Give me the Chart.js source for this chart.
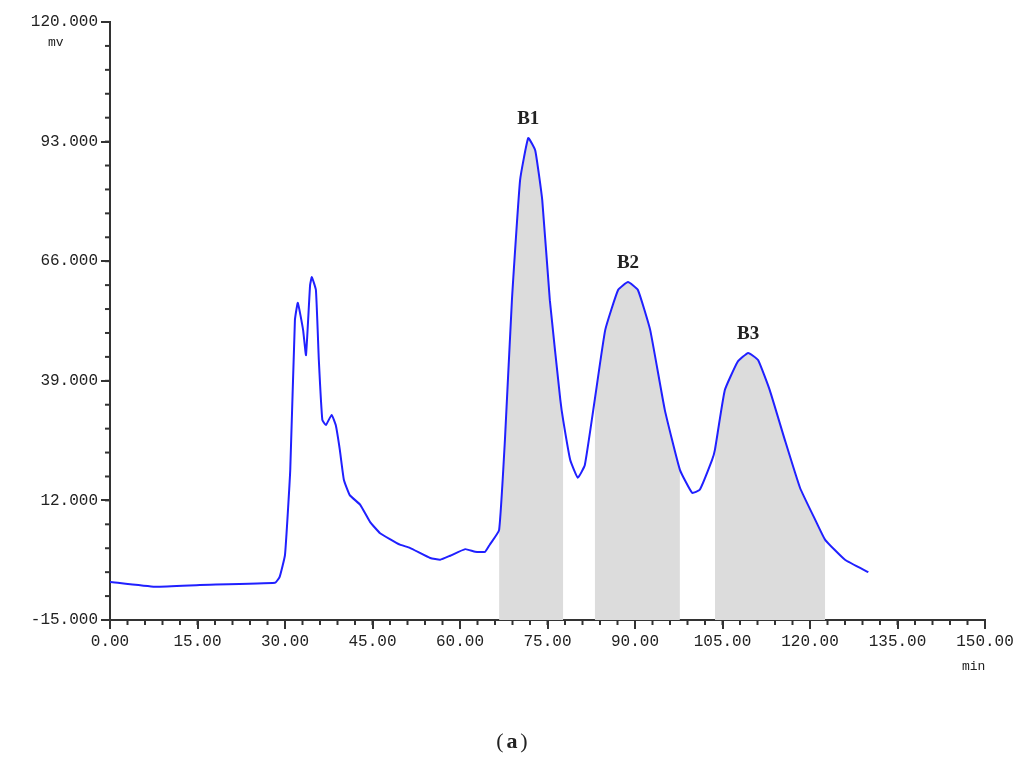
<!DOCTYPE html>
<html>
<head>
<meta charset="utf-8">
<script src="https://cdn.jsdelivr.net/npm/chart.js@4/dist/chart.umd.min.js"></script>
<style>
  html, body { margin: 0; padding: 0; background: #fff; }
  #wrap { width: 1024px; height: 765px; }
</style>
</head>
<body>
<div id="wrap"><canvas id="chrom"></canvas></div>
<script>
// retention time (min) and signal (mV)
const times = [0, 7.7, 15.4, 28.3, 29.1, 30, 30.9, 31.7, 32.2, 33.1, 33.6, 34.3, 34.6, 35.3, 35.8, 36.4, 37, 38, 38.7, 39.4, 40.1, 41.1, 42.9, 44.6, 46.3, 49.7, 51.4, 54.9, 56.6, 58.3, 60.9, 62.6, 64.3, 65.1, 66.7, 67.7, 68.9, 70.3, 71.7, 72.9, 74.1, 75.4, 77.2, 77.7, 78.9, 80.2, 81.4, 83.1, 84.9, 87.1, 88.8, 90.5, 92.6, 95.1, 97.7, 99.8, 101.1, 103.2, 103.7, 105.4, 107.6, 109.4, 111.1, 113.1, 115.7, 118.3, 120.9, 122.6, 126, 130];
const signal = [-6.4, -7.5, -7.1, -6.6, -5.2, -0.3, 18.9, 52.7, 56.6, 50.5, 44.8, 60.6, 62.4, 59.5, 43.7, 30.2, 29, 31.3, 29, 23.4, 16.6, 13.2, 11, 7.1, 4.6, 2, 1.3, -1, -1.4, -0.5, 1, 0.4, 0.4, 2, 5.3, 25.6, 57.2, 84.3, 93.8, 91, 79.8, 57.2, 34.7, 30, 21.1, 17.1, 20, 34.7, 50.5, 59.5, 61.3, 59.5, 50.5, 32.5, 18.9, 13.7, 14.4, 21.1, 23.4, 36.9, 43.3, 45.3, 43.7, 36.9, 25.6, 14.8, 7.6, 3.1, -1.4, -4.2];

// collected fractions: start/end time and label
const peakNames = ['B1', 'B2', 'B3'];
const peakStart = [66.7, 83.1, 103.7];
const peakEnd = [77.7, 97.7, 122.6];
const peakTop = [71.7, 88.8, 109.4];
const peakTopVal = [93.8, 61.3, 45.3];

const yTicks = [-15, 12, 39, 66, 93, 120];
const xTicks = [0, 15, 30, 45, 60, 75, 90, 105, 120, 135, 150];

const trace = times.map((t, i) => ({ x: t, y: signal[i] }));

const shaded = peakNames.map((name, k) => ({
  label: name,
  data: trace.filter(p => p.x >= peakStart[k] && p.x <= peakEnd[k]),
  borderWidth: 0,
  pointRadius: 0,
  backgroundColor: '#dcdcdc',
  fill: { value: -15 },
  tension: 0.25
}));

const extras = {
  id: 'extras',
  afterDraw(chart) {
    const { ctx, scales: { x, y } } = chart;
    ctx.save();
    ctx.strokeStyle = '#333';
    ctx.lineWidth = 2;
    // minor ticks
    for (let v = 0; v <= 150; v += 3) {
      const px = x.getPixelForValue(v);
      ctx.beginPath(); ctx.moveTo(px, y.bottom); ctx.lineTo(px, y.bottom + 5); ctx.stroke();
    }
    for (let v = -15; v <= 120; v += 5.4) {
      const py = y.getPixelForValue(v);
      ctx.beginPath(); ctx.moveTo(x.left, py); ctx.lineTo(x.left - 5, py); ctx.stroke();
    }
    ctx.fillStyle = '#222';
    ctx.font = '13px "Liberation Mono"';
    ctx.textAlign = 'left';
    ctx.fillText('mv', 48, 46);
    ctx.fillText('min', 962, 670);
    ctx.font = 'bold 19px "Liberation Serif"';
    ctx.textAlign = 'center';
    peakNames.forEach((n, k) => {
      ctx.fillText(n, x.getPixelForValue(peakTop[k]), y.getPixelForValue(peakTopVal[k]) - 14);
    });
    ctx.font = '22px "Liberation Serif"';
    ctx.fillText('(', 500, 748);
    ctx.font = 'bold 22px "Liberation Serif"';
    ctx.fillText('a', 512, 748);
    ctx.font = '22px "Liberation Serif"';
    ctx.fillText(')', 524, 748);
    ctx.restore();
  }
};

new Chart(document.getElementById('chrom'), {
  type: 'line',
  data: {
    datasets: [{
      label: 'signal',
      data: trace,
      borderColor: '#2020ff',
      borderWidth: 2,
      pointRadius: 0,
      fill: false,
      tension: 0.12
    }, ...shaded]
  },
  options: {
    responsive: true,
    maintainAspectRatio: false,
    animation: false,
    layout: { padding: { top: 22, right: 39, left: 0, bottom: 0 } },
    plugins: { legend: { display: false }, tooltip: { enabled: false } },
    scales: {
      x: {
        type: 'linear', min: 0, max: 150,
        afterBuildTicks: s => { s.ticks = xTicks.map(v => ({ value: v })); },
        afterFit: s => { s.height = 145; },
        grid: { drawOnChartArea: false, tickLength: 9, color: '#333', lineWidth: 2 },
        border: { color: '#333', width: 2 },
        ticks: { color: '#222', font: { family: 'Liberation Mono', size: 16 }, maxRotation: 0, callback: v => v.toFixed(2) }
      },
      y: {
        min: -15, max: 120,
        afterBuildTicks: s => { s.ticks = yTicks.map(v => ({ value: v })); },
        afterFit: s => { s.width = 110; },
        grid: { drawOnChartArea: false, tickLength: 9, color: '#333', lineWidth: 2 },
        border: { color: '#333', width: 2 },
        ticks: { color: '#222', font: { family: 'Liberation Mono', size: 16 }, callback: v => v.toFixed(3) }
      }
    }
  },
  plugins: [extras]
});
</script>
</body>
</html>
